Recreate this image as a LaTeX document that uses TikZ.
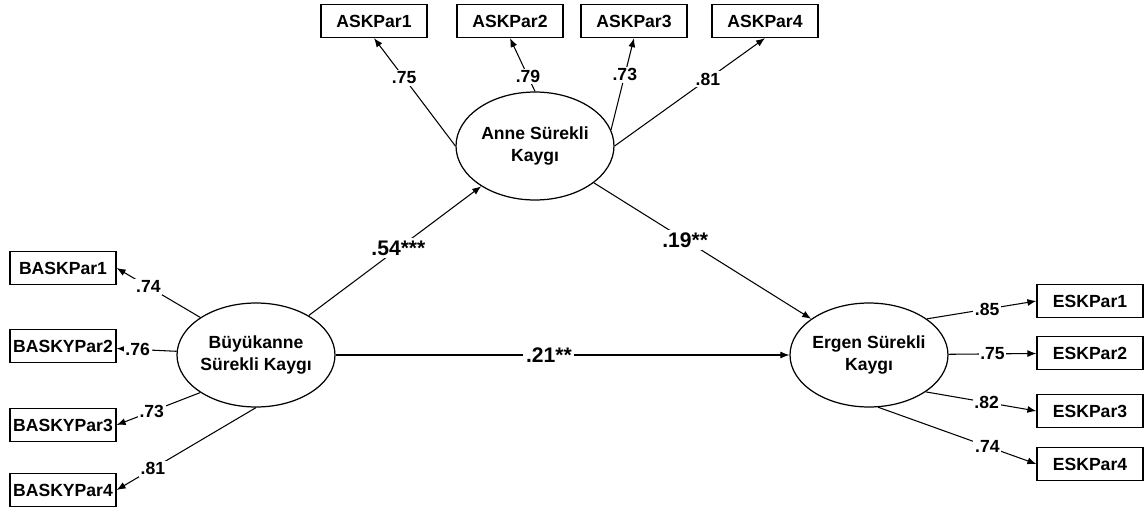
\documentclass[tikz,border=0pt]{standalone}
\usepackage{fontspec}
\setmainfont{Liberation Sans}
\usetikzlibrary{arrows.meta,shapes.geometric}
\tikzset{
  obs/.style={draw,line width=0.7pt,minimum width=2.12cm,minimum height=0.66cm,inner sep=1pt,font=\bfseries\fontsize{10}{11}\selectfont},
  lat/.style={draw,ellipse,line width=0.7pt,minimum width=3.16cm,minimum height=2.08cm,inner xsep=-3pt,inner ysep=0pt,align=center,font=\bfseries\fontsize{10}{12.5}\selectfont},
  coef/.style={fill=white,inner sep=1pt,font=\bfseries\fontsize{10}{11}\selectfont},
  coefbig/.style={fill=white,inner sep=1.5pt,font=\bfseries\fontsize{12}{13}\selectfont}
}
\begin{document}
\begin{tikzpicture}[x=0.02cm,y=-0.02cm]
      \useasboundingbox (0,0) rectangle (1146,511);
      \draw
        (256,355) node[lat] (bk){B\"uy\"ukanne\\S\"urekli Kayg\i}
        (535,146) node[lat,minimum height=2.16cm] (an){Anne S\"urekli\\Kayg\i}
        (869,355) node[lat] (eg){Ergen S\"urekli\\Kayg\i}
        (63,268) node[obs] (b1){BASKPar1}
        (63,346) node[obs] (b2){BASKYPar2}
        (63,425) node[obs] (b3){BASKYPar3}
        (63,490) node[obs] (b4){BASKYPar4}
        (374,21) node[obs] (a1){ASKPar1}
        (510,21) node[obs] (a2){ASKPar2}
        (634,21) node[obs] (a3){ASKPar3}
        (765,21) node[obs] (a4){ASKPar4}
        (1090,301) node[obs] (e1){ESKPar1}
        (1090,353) node[obs] (e2){ESKPar2}
        (1090,411) node[obs] (e3){ESKPar3}
        (1090,464) node[obs] (e4){ESKPar4};
      \begin{scope}[-{Latex[length=1.8mm,width=1.4mm]},line width=0.6pt]
        \draw (bk.146) to node[coef,pos=.62]{.74} (b1.east);
        \draw (bk) to node[coef,pos=.65]{.76} (b2);
        \draw (bk.214) to node[coef,pos=.58]{.73} (b3.east);
        \draw (bk.south) to node[coef,pos=.74]{.81} (b4.east);
        \draw (an.west) to node[coef,pos=.63]{.75} (a1.south);
        \draw (an.north) to node[coef,pos=.28]{.79} (a2.south);
        \draw (an.12) to node[coef,pos=.6]{.73} (a3.south);
        \draw (an.east) to node[coef,pos=.62]{.81} (a4.south);
        \draw (eg.32) to node[coef,pos=.55]{.85} (e1.west);
        \draw (eg) to node[coef,pos=.5]{.75} (e2);
        \draw (eg.-33) to node[coef,pos=.55]{.82} (e3.west);
        \draw (eg.-80) to node[coef,pos=.69]{.74} (e4.west);
        \draw (bk) to node[coefbig,pos=.52]{.54***} (an);
        \draw (an) to node[coefbig,pos=.42]{.19**} (eg);
        \draw (bk) to node[coefbig,pos=.47]{.21**} (eg);
      \end{scope}
    \end{tikzpicture}
\end{document}
